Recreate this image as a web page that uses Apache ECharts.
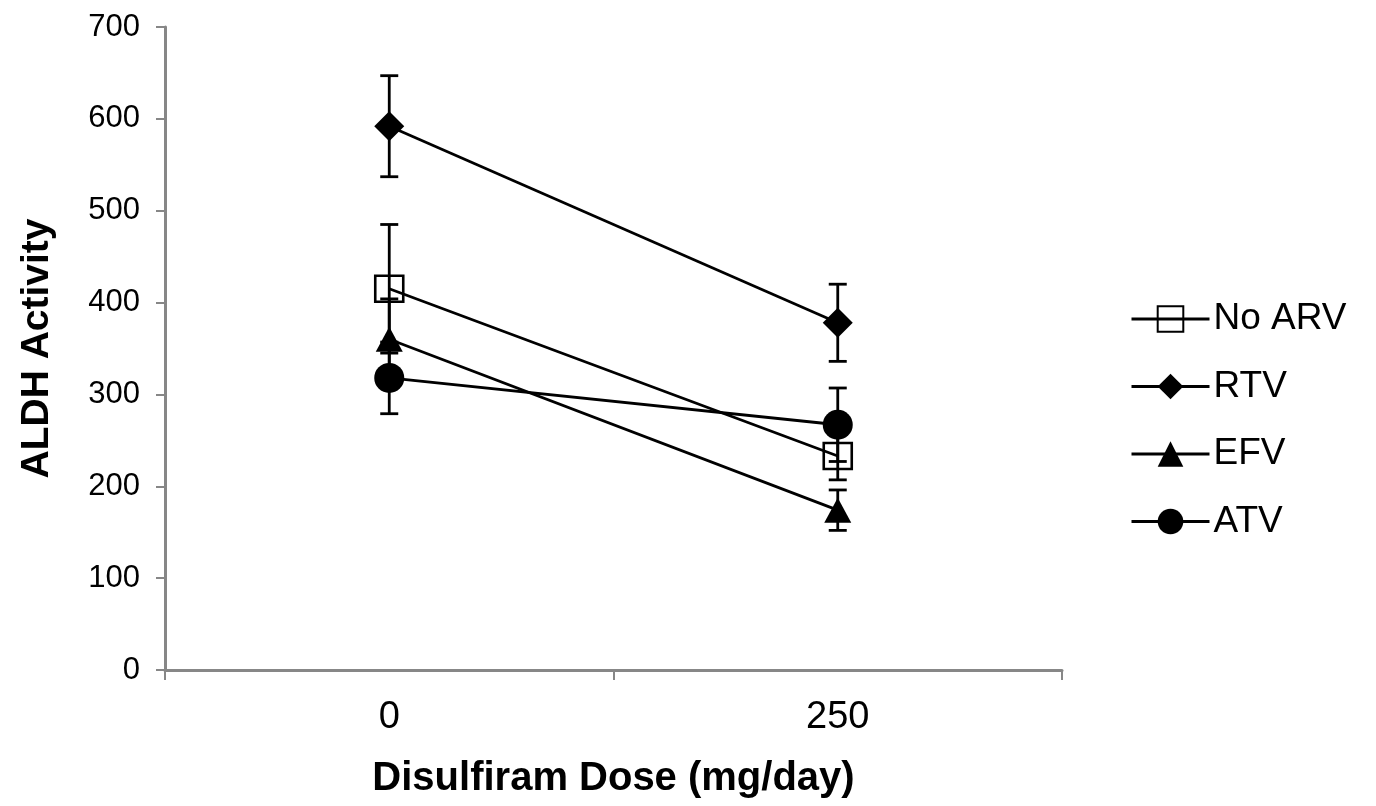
<!DOCTYPE html>
<html>
<head>
<meta charset="utf-8">
<script src="https://cdn.jsdelivr.net/npm/echarts@6/dist/echarts.min.js"></script>
<style>html,body{margin:0;padding:0;background:#fff;}#c{width:1376px;height:806px;}</style>
</head>
<body>
<div id="c"></div>
<script>
var categories = ['0', '250'];
var seriesNames = ['No ARV', 'RTV', 'EFV', 'ATV'];
var noArv = [415, 233];
var noArvErr = [70, 26];
var rtv = [592, 378];
var rtvErr = [55, 42];
var efv = [360, 174];
var efvErr = [44, 22];
var atv = [318, 267];
var atvErr = [39, 40];
var yTicks = [0, 100, 200, 300, 400, 500, 600, 700];

var font = 'Liberation Sans, Arial, sans-serif';
var chart = echarts.init(document.getElementById('c'));

function errData(vals, errs) {
  return vals.map(function (v, i) { return [i, v - errs[i], v + errs[i]]; });
}
function errSeries(name, vals, errs) {
  return {
    type: 'custom',
    name: name + ' err',
    z: 5,
    silent: true,
    data: errData(vals, errs),
    renderItem: function (params, api) {
      var lo = api.coord([api.value(0), api.value(1)]);
      var hi = api.coord([api.value(0), api.value(2)]);
      var hw = 9;
      var st = { stroke: '#000', lineWidth: 2.8 };
      return {
        type: 'group',
        children: [
          { type: 'line', shape: { x1: lo[0], y1: lo[1], x2: hi[0], y2: hi[1] }, style: st },
          { type: 'line', shape: { x1: lo[0] - hw, y1: lo[1], x2: lo[0] + hw, y2: lo[1] }, style: st },
          { type: 'line', shape: { x1: hi[0] - hw, y1: hi[1], x2: hi[0] + hw, y2: hi[1] }, style: st }
        ]
      };
    }
  };
}
function lineSeries(name, vals, symbol, size, hollow) {
  return {
    type: 'line',
    name: name,
    data: vals,
    symbol: symbol,
    symbolSize: size,
    z: 3,
    lineStyle: { color: '#000', width: 2.8 },
    itemStyle: hollow ? { color: 'rgba(255,255,255,0)', borderColor: '#000', borderWidth: 2.5 } : { color: '#000', borderWidth: 0 },
    emphasis: { disabled: true }
  };
}

var option = {
  animation: false,
  backgroundColor: '#fff',
  grid: { left: 165, top: 27, right: 314, bottom: 136, containLabel: false },
  legend: {
    orient: 'vertical',
    left: 1125,
    top: 294,
    itemGap: 27.5,
    itemWidth: 78,
    itemHeight: 32,
    data: seriesNames,
    lineStyle: { width: 3 },
    textStyle: { fontFamily: font, fontSize: 37, lineHeight: 40, color: '#000', padding: [0, 0, 0, -1] },
    selectedMode: false
  },
  xAxis: {
    type: 'category',
    data: categories,
    boundaryGap: true,
    name: 'Disulfiram Dose (mg/day)',
    nameLocation: 'middle',
    nameGap: 89,
    nameTextStyle: { fontFamily: font, fontSize: 40, fontWeight: 'bold', color: '#000' },
    axisLine: { lineStyle: { color: '#878787', width: 3 } },
    axisTick: { show: true, length: 10, lineStyle: { color: '#878787', width: 2 } },
    axisLabel: { fontFamily: font, fontSize: 38, color: '#000', margin: 29 }
  },
  yAxis: {
    type: 'value',
    min: 0,
    max: 700,
    interval: 100,
    name: 'ALDH Activity',
    nameLocation: 'middle',
    nameGap: 108,
    nameTextStyle: { fontFamily: font, fontSize: 39, fontWeight: 'bold', color: '#000' },
    splitLine: { show: false },
    axisLine: { show: true, lineStyle: { color: '#878787', width: 3 } },
    axisTick: { show: true, length: 9, lineStyle: { color: '#878787', width: 2 } },
    axisLabel: {
      fontFamily: font, fontSize: 31, color: '#000', margin: 25,
      formatter: function (v) { return yTicks.indexOf(v) >= 0 ? String(v) : ''; }
    }
  },
  series: [
    lineSeries('No ARV', noArv, 'rect', [28, 26], true),
    lineSeries('RTV', rtv, 'diamond', [30, 30], false),
    lineSeries('EFV', efv, 'triangle', [27, 25], false),
    lineSeries('ATV', atv, 'circle', 30, false),
    errSeries('No ARV', noArv, noArvErr),
    errSeries('RTV', rtv, rtvErr),
    errSeries('EFV', efv, efvErr),
    errSeries('ATV', atv, atvErr)
  ]
};
chart.setOption(option);
</script>
</body>
</html>
